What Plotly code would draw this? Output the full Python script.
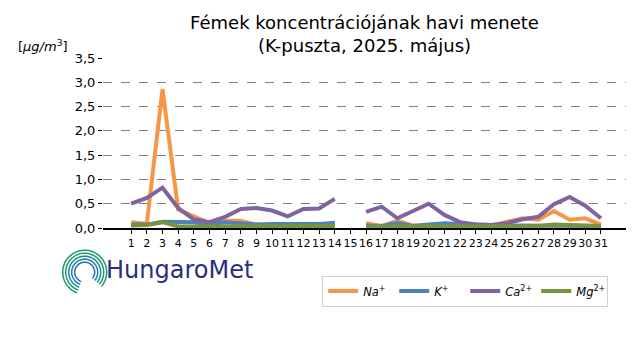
import math
import plotly.graph_objects as go

days = list(range(1, 32))
na = [0.12, 0.09, 2.86, 0.38, 0.24, 0.10, 0.15, 0.15, 0.07, 0.06, 0.05, 0.05, 0.07, 0.08, None,
      0.10, 0.04, 0.15, 0.05, 0.05, 0.05, 0.04, 0.04, 0.05, 0.13, 0.20, 0.17, 0.35, 0.17, 0.20, 0.07]
k = [0.07, 0.07, 0.13, 0.12, 0.12, 0.08, 0.12, 0.10, 0.07, 0.08, 0.07, 0.08, 0.08, 0.11, None,
     0.05, 0.04, 0.10, 0.04, 0.07, 0.10, 0.08, 0.06, 0.06, 0.05, 0.05, 0.05, 0.05, 0.04, 0.04, 0.04]
ca = [0.50, 0.62, 0.83, 0.41, 0.18, 0.12, 0.23, 0.39, 0.41, 0.36, 0.24, 0.39, 0.40, 0.60, None,
      0.33, 0.44, 0.20, 0.34, 0.50, 0.27, 0.12, 0.07, 0.06, 0.10, 0.18, 0.23, 0.49, 0.64, 0.46, 0.20]
mg = [0.05, 0.06, 0.12, 0.03, 0.03, 0.03, 0.04, 0.05, 0.04, 0.04, 0.04, 0.04, 0.04, 0.04, None,
      0.03, 0.03, 0.03, 0.03, 0.05, 0.03, 0.03, 0.03, 0.03, 0.03, 0.03, 0.04, 0.07, 0.07, 0.05, 0.04]
y_ticks = [0, 0.5, 1, 1.5, 2, 2.5, 3, 3.5]
y_tick_labels = ["0,0", "0,5", "1,0", "1,5", "2,0", "2,5", "3,0", "3,5"]

series = [
    ("<i>Na</i><sup>+</sup>", na, "#F79646"),
    ("<i>K</i><sup>+</sup>", k, "#4F81BD"),
    ("<i>Ca</i><sup>2+</sup>", ca, "#8064A2"),
    ("<i>Mg</i><sup>2+</sup>", mg, "#77933C"),
]

fig = go.Figure()
for name, vals, col in series:
    fig.add_trace(go.Scatter(x=days, y=vals, mode="lines", name=name,
                             line=dict(color=col, width=4), connectgaps=False))

fig.update_layout(
    width=640, height=360,
    paper_bgcolor="white", plot_bgcolor="white",
    margin=dict(l=103, r=14, t=58, b=132, autoexpand=False),
    font=dict(family="DejaVu Sans", size=13, color="black"),
    title=dict(text="Fémek koncentrációjának havi menete<br>(K-puszta, 2025. május)",
               x=0.5, xref="paper", xanchor="center", y=0.92, yref="container",
               yanchor="top", font=dict(size=18, color="black"), automargin=False),
    showlegend=True,
    legend=dict(orientation="h", x=0.966, y=-0.28, xanchor="right", yanchor="top",
                bordercolor="#d0d0d0", borderwidth=1, bgcolor="white",
                font=dict(size=11.5), itemwidth=30, entrywidth=26, tracegroupgap=0),
)
fig.update_xaxes(range=[-0.8, 32.6], tickvals=days, ticktext=[str(d) for d in days],
                 showgrid=False, zeroline=False, showline=True, linecolor="black",
                 linewidth=1.5, ticks="outside", ticklen=4, tickcolor="black",
                 tickangle=0, automargin=False, tickfont=dict(size=11))
fig.update_yaxes(range=[0, 3.5], tickvals=y_ticks, ticktext=y_tick_labels,
                 showgrid=True, gridcolor="#808080", griddash="dash", gridwidth=1,
                 zeroline=False, showline=False, ticks="outside", ticklen=4,
                 tickcolor="black", automargin=False, tickfont=dict(size=13))

fig.add_annotation(text="[<i>μg/m</i><sup>3</sup>]", xref="paper", yref="paper",
                   x=-0.063, y=1.07, xanchor="right", yanchor="middle",
                   showarrow=False, font=dict(size=13))

# Logo text
fig.add_annotation(text="HungaroMet", xref="paper", yref="paper",
                   x=0.002, y=-0.245, xanchor="left", yanchor="middle",
                   showarrow=False, font=dict(size=24, color="#2B2E83", family="DejaVu Sans"))

# Logo arcs (pixel-sized shapes)
colors = ["#1f9a6a", "#1c9a7c", "#1a8f92", "#1c7fa5", "#2a6fb3"]
for i, r in enumerate([22, 19, 16, 13, 10]):
    a0, a1 = math.radians(-40), math.radians(250)
    pts = []
    n = 40
    for j in range(n + 1):
        a = a0 + (a1 - a0) * j / n
        pts.append((r * math.cos(a), r * math.sin(a)))
    path = "M " + " L ".join(f"{px:.2f},{py:.2f}" for px, py in pts)
    fig.add_shape(type="path", path=path, xref="paper", yref="paper",
                  xsizemode="pixel", ysizemode="pixel",
                  xanchor=-0.035, yanchor=-0.26,
                  line=dict(color=colors[i], width=1.5))

fig.write_html("out.html", config={"displayModeBar": False},
               post_script="document.body.style.margin='0';")
